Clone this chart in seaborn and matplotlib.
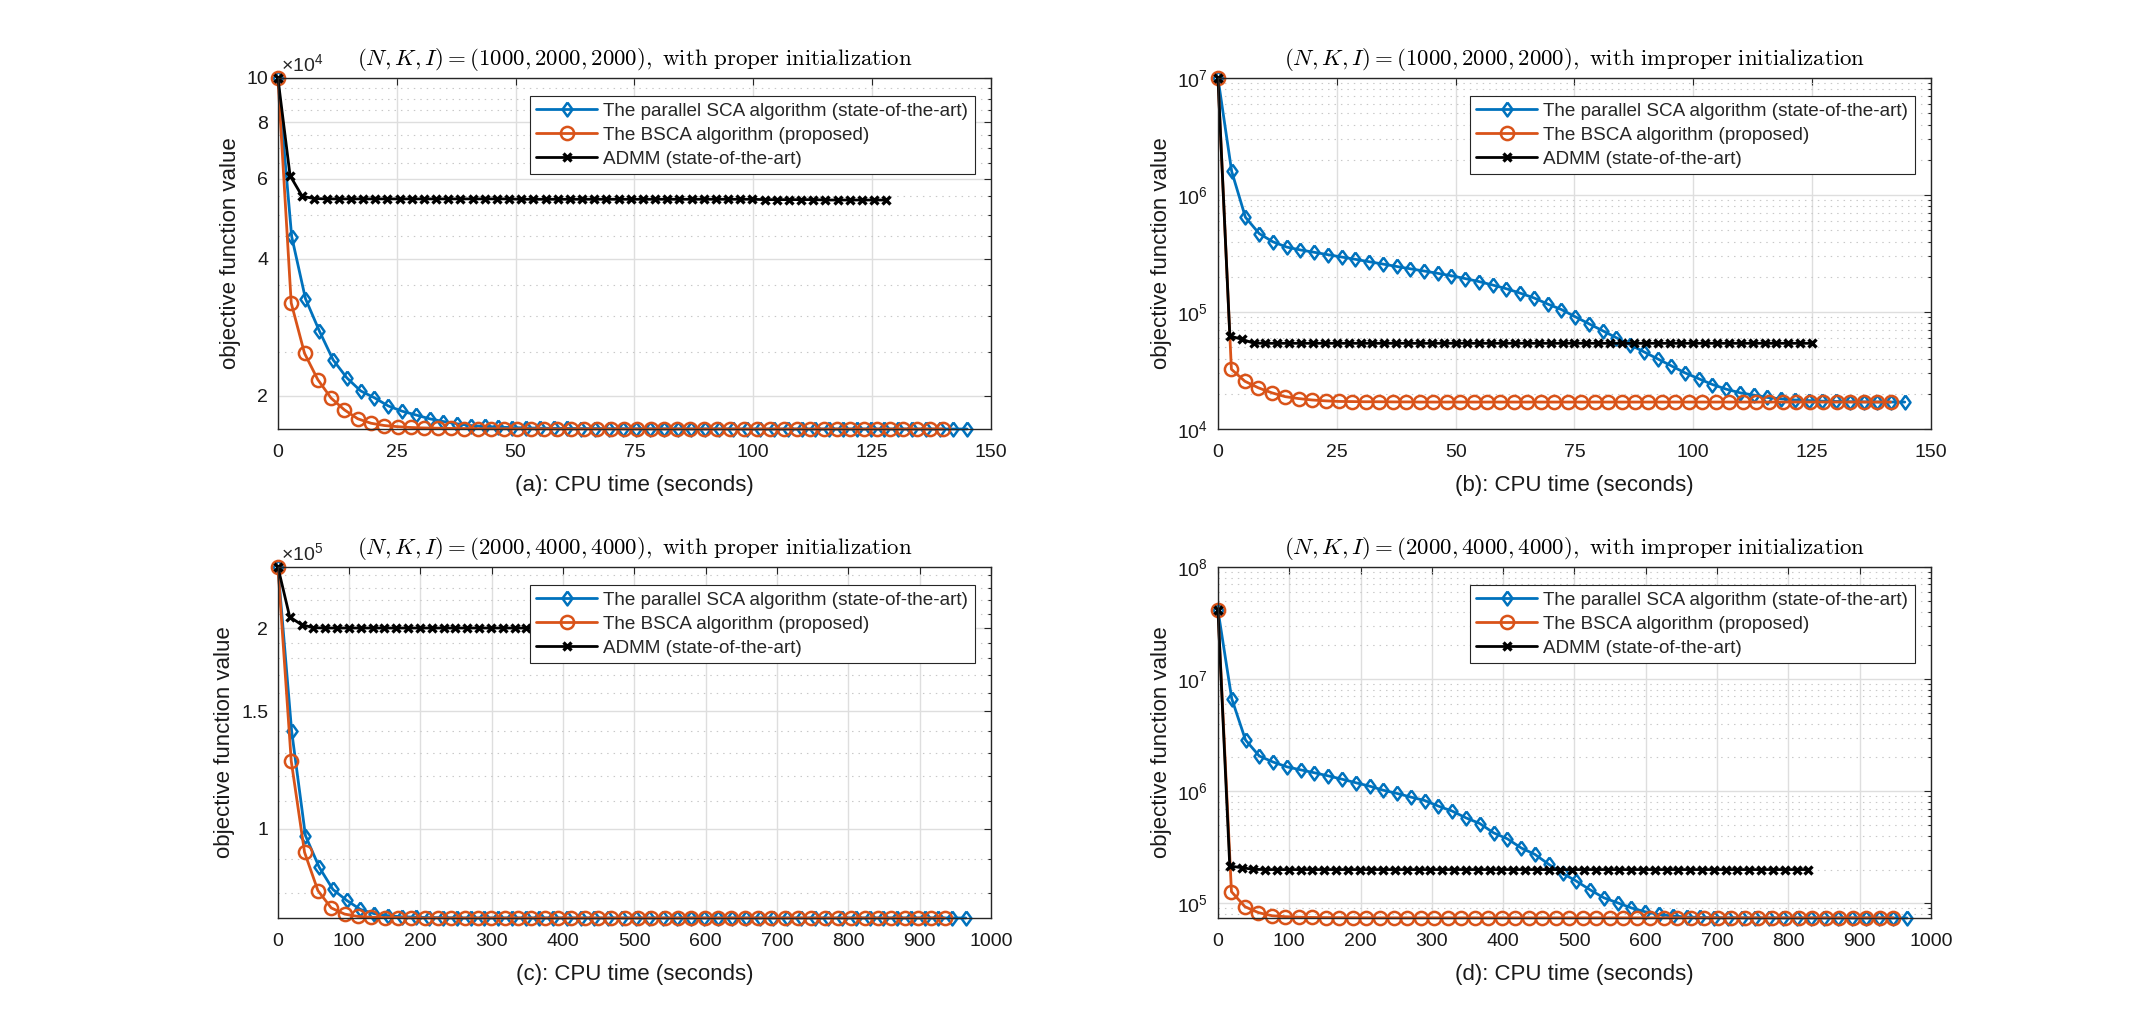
import numpy as np
import matplotlib
matplotlib.use('Agg')
import matplotlib.pyplot as plt
import seaborn as sns
from matplotlib.ticker import FixedLocator, FixedFormatter, NullFormatter, LogLocator

# ---------------- data ----------------
iters = np.arange(51)
labels = ['The parallel SCA algorithm (state-of-the-art)',
          'The BSCA algorithm (proposed)',
          'ADMM (state-of-the-art)']

# CPU seconds per iteration: SCA, BSCA, ADMM
sec_per_iter_a = [2.9, 2.8, 2.56]
sec_per_iter_b = [2.89, 2.83, 2.5]
sec_per_iter_c = [19.3, 18.7, 16.6]
sec_per_iter_d = [19.33, 18.94, 16.56]

# (a) x1e4
sca_a = [10.0, 4.48, 3.27, 2.78, 2.40, 2.19, 2.05, 1.98, 1.90, 1.85,
         1.815, 1.78, 1.755, 1.735, 1.72, 1.712, 1.706, 1.702, 1.699, 1.697,
         1.696, 1.695, 1.694, 1.694, 1.693, 1.693, 1.692, 1.692, 1.692, 1.691,
         1.691, 1.691, 1.691, 1.691, 1.690, 1.690, 1.690, 1.690, 1.690, 1.690,
         1.690, 1.690, 1.690, 1.690, 1.690, 1.690, 1.690, 1.690, 1.690, 1.690, 1.690]
bsca_a = [10.0, 3.20, 2.48, 2.17, 1.976, 1.862, 1.78, 1.74, 1.72, 1.71,
          1.703, 1.699, 1.697, 1.695, 1.694, 1.693, 1.692, 1.692, 1.691, 1.691,
          1.691, 1.690, 1.690, 1.690, 1.690, 1.690, 1.690, 1.690, 1.690, 1.690,
          1.690, 1.690, 1.690, 1.690, 1.690, 1.690, 1.690, 1.690, 1.690, 1.690,
          1.690, 1.690, 1.690, 1.690, 1.690, 1.690, 1.690, 1.690, 1.690, 1.690, 1.690]
admm_a = [10.0, 6.10, 5.49, 5.43, 5.42, 5.42, 5.42, 5.42, 5.42, 5.42,
          5.42, 5.42, 5.42, 5.42, 5.42, 5.42, 5.42, 5.42, 5.42, 5.42,
          5.41, 5.41, 5.41, 5.41, 5.41, 5.41, 5.41, 5.41, 5.41, 5.41,
          5.41, 5.41, 5.41, 5.41, 5.41, 5.41, 5.41, 5.41, 5.41, 5.41,
          5.40, 5.40, 5.40, 5.40, 5.40, 5.39, 5.39, 5.39, 5.39, 5.39, 5.39]

# (b)
sca_b = [1.0e7, 1.59e6, 6.45e5, 4.68e5, 3.98e5, 3.59e5, 3.39e5, 3.24e5, 3.09e5, 2.95e5,
         2.82e5, 2.69e5, 2.57e5, 2.45e5, 2.34e5, 2.24e5, 2.14e5, 2.04e5, 1.93e5, 1.82e5,
         1.70e5, 1.58e5, 1.45e5, 1.32e5, 1.17e5, 1.05e5, 9.12e4, 7.94e4, 6.92e4, 6.03e4,
         5.25e4, 4.57e4, 3.98e4, 3.47e4, 3.02e4, 2.69e4, 2.40e4, 2.19e4, 2.04e4, 1.95e4,
         1.86e4, 1.81e4, 1.77e4, 1.75e4, 1.73e4, 1.72e4, 1.71e4, 1.706e4, 1.702e4, 1.70e4, 1.70e4]
bsca_b = [1.0e7, 3.24e4, 2.56e4, 2.25e4, 2.04e4, 1.89e4, 1.82e4, 1.77e4, 1.74e4, 1.72e4,
          1.715e4, 1.71e4, 1.71e4, 1.705e4, 1.705e4, 1.70e4, 1.70e4, 1.70e4, 1.70e4, 1.70e4,
          1.70e4, 1.70e4, 1.70e4, 1.70e4, 1.70e4, 1.70e4, 1.70e4, 1.70e4, 1.70e4, 1.70e4,
          1.70e4, 1.70e4, 1.70e4, 1.70e4, 1.70e4, 1.70e4, 1.70e4, 1.70e4, 1.70e4, 1.70e4,
          1.70e4, 1.70e4, 1.70e4, 1.70e4, 1.70e4, 1.70e4, 1.70e4, 1.70e4, 1.70e4, 1.70e4, 1.70e4]
admm_b = [1.0e7, 6.24e4, 5.85e4, 5.42e4, 5.40e4, 5.40e4, 5.40e4, 5.40e4, 5.40e4, 5.40e4,
          5.40e4, 5.40e4, 5.40e4, 5.40e4, 5.40e4, 5.40e4, 5.40e4, 5.40e4, 5.40e4, 5.40e4,
          5.40e4, 5.40e4, 5.40e4, 5.40e4, 5.40e4, 5.40e4, 5.40e4, 5.40e4, 5.40e4, 5.40e4,
          5.40e4, 5.40e4, 5.40e4, 5.40e4, 5.40e4, 5.40e4, 5.40e4, 5.40e4, 5.40e4, 5.40e4,
          5.40e4, 5.40e4, 5.40e4, 5.40e4, 5.40e4, 5.40e4, 5.40e4, 5.40e4, 5.40e4, 5.40e4, 5.40e4]

# (c) x1e5
sca_c = [2.47, 1.40, 0.976, 0.875, 0.810, 0.780, 0.756, 0.745, 0.740, 0.737,
         0.736, 0.735, 0.735, 0.734, 0.734, 0.734, 0.734, 0.734, 0.734, 0.734,
         0.734, 0.734, 0.734, 0.734, 0.734, 0.734, 0.734, 0.734, 0.734, 0.734,
         0.734, 0.734, 0.734, 0.734, 0.734, 0.734, 0.734, 0.734, 0.734, 0.734,
         0.734, 0.734, 0.734, 0.734, 0.734, 0.734, 0.734, 0.734, 0.734, 0.734, 0.734]
bsca_c = [2.47, 1.263, 0.921, 0.807, 0.760, 0.744, 0.738, 0.736, 0.735, 0.735,
          0.734, 0.734, 0.734, 0.734, 0.734, 0.734, 0.734, 0.734, 0.734, 0.734,
          0.734, 0.734, 0.734, 0.734, 0.734, 0.734, 0.734, 0.734, 0.734, 0.734,
          0.734, 0.734, 0.734, 0.734, 0.734, 0.734, 0.734, 0.734, 0.734, 0.734,
          0.734, 0.734, 0.734, 0.734, 0.734, 0.734, 0.734, 0.734, 0.734, 0.734, 0.734]
admm_c = [2.47, 2.078, 2.023, 2.002, 2.0, 2.0, 2.0, 2.0, 2.0, 2.0,
          2.0, 2.0, 2.0, 2.0, 2.0, 2.0, 2.0, 2.0, 2.0, 2.0,
          2.0, 2.0, 2.0, 2.0, 2.0, 2.0, 2.0, 2.0, 2.0, 2.0,
          2.0, 2.0, 2.0, 2.0, 2.0, 2.0, 2.0, 2.0, 2.0, 2.0,
          2.0, 2.0, 2.0, 2.0, 2.0, 2.0, 2.0, 2.0, 2.0, 2.0, 2.0]

# (d)
sca_d = [4.13e7, 6.7e6, 2.86e6, 2.06e6, 1.82e6, 1.65e6, 1.55e6, 1.46e6, 1.37e6, 1.28e6,
         1.19e6, 1.11e6, 1.02e6, 9.55e5, 8.86e5, 8.26e5, 7.36e5, 6.64e5, 5.78e5, 5.15e5,
         4.25e5, 3.76e5, 3.12e5, 2.73e5, 2.23e5, 1.85e5, 1.58e5, 1.32e5, 1.12e5, 1.01e5,
         9.1e4, 8.4e4, 7.95e4, 7.7e4, 7.55e4, 7.48e4, 7.45e4, 7.43e4, 7.42e4, 7.41e4,
         7.41e4, 7.40e4, 7.40e4, 7.40e4, 7.40e4, 7.40e4, 7.40e4, 7.40e4, 7.40e4, 7.40e4, 7.40e4]
bsca_d = [4.13e7, 1.27e5, 9.33e4, 8.26e4, 7.75e4, 7.6e4, 7.52e4, 7.48e4, 7.46e4, 7.45e4,
          7.44e4, 7.43e4, 7.42e4, 7.42e4, 7.42e4, 7.42e4, 7.42e4, 7.42e4, 7.42e4, 7.42e4,
          7.42e4, 7.42e4, 7.42e4, 7.42e4, 7.42e4, 7.42e4, 7.42e4, 7.42e4, 7.42e4, 7.42e4,
          7.42e4, 7.42e4, 7.42e4, 7.42e4, 7.42e4, 7.42e4, 7.42e4, 7.42e4, 7.42e4, 7.42e4,
          7.42e4, 7.42e4, 7.42e4, 7.42e4, 7.42e4, 7.42e4, 7.42e4, 7.42e4, 7.42e4, 7.42e4, 7.42e4]
admm_d = [4.13e7, 2.15e5, 2.08e5, 2.01e5, 2.0e5, 2.0e5, 2.0e5, 2.0e5, 2.0e5, 2.0e5,
          2.0e5, 2.0e5, 2.0e5, 2.0e5, 2.0e5, 2.0e5, 2.0e5, 2.0e5, 2.0e5, 2.0e5,
          2.0e5, 2.0e5, 2.0e5, 2.0e5, 2.0e5, 2.0e5, 2.0e5, 2.0e5, 2.0e5, 2.0e5,
          2.0e5, 2.0e5, 2.0e5, 2.0e5, 2.0e5, 2.0e5, 2.0e5, 2.0e5, 2.0e5, 2.0e5,
          2.0e5, 2.0e5, 2.0e5, 2.0e5, 2.0e5, 2.0e5, 2.0e5, 2.0e5, 2.0e5, 2.0e5, 2.0e5]

# ---------------- style ----------------
sns.set_theme(style='white')
plt.rcParams['font.family'] = ['Liberation Sans', 'DejaVu Sans']
plt.rcParams['mathtext.fontset'] = 'custom'
plt.rcParams['mathtext.rm'] = 'Liberation Sans'
plt.rcParams['mathtext.it'] = 'Liberation Sans:italic'
plt.rcParams['mathtext.bf'] = 'Liberation Sans:bold'

colors = ['#0072BD', '#D95319', 'black']
diamond = [(0, 1), (0.72, 0), (0, -1), (-0.72, 0), (0, 1)]
mk = [dict(marker=diamond, markersize=10, markeredgewidth=1.8),
      dict(marker='o', markersize=9.5, markeredgewidth=1.8),
      dict(marker='x', markersize=5.5, markeredgewidth=2.4)]
axcol = '#262626'

fig = plt.figure(figsize=(21.36, 10.34), dpi=100)
W, H = 0.3338, 0.3395
pos = {'a': [0.1301, 0.5851, W, H], 'b': [0.5702, 0.5851, W, H],
       'c': [0.1301, 0.1122, W, H], 'd': [0.5702, 0.1122, W, H]}


def panel(key, series, steps, xmax, xstep, ylim, title, scale=1.0, ticks=None):
    ax = fig.add_axes(pos[key])
    for i, (vals, st) in enumerate(zip(series, steps)):
        sns.lineplot(x=iters * st, y=np.array(vals) * scale, ax=ax, color=colors[i],
                     lw=2, label=labels[i], markerfacecolor='none',
                     markeredgecolor=colors[i], clip_on=False, estimator=None,
                     sort=False, zorder=3 + i, **mk[i])
    ax.set_yscale('log')
    ax.set_xlim(0, xmax)
    ax.set_xticks(np.arange(0, xmax + 1, xstep))
    ax.set_ylim(ylim)
    if ticks is not None:
        major, lab, minor, expo = ticks
        ax.yaxis.set_major_locator(FixedLocator(major))
        ax.yaxis.set_major_formatter(FixedFormatter(lab))
        ax.yaxis.set_minor_locator(FixedLocator(minor))
        ax.text(0.004, 1.008, '\u00d710$^{%d}$' % expo, transform=ax.transAxes,
                ha='left', va='bottom', fontsize=14, color=axcol)
    else:
        ax.yaxis.set_major_locator(LogLocator(base=10))
        ax.yaxis.set_minor_locator(LogLocator(base=10, subs=np.arange(2, 10)))
    ax.yaxis.set_minor_formatter(NullFormatter())
    ax.grid(which='major', color='#dedede', lw=1)
    ax.grid(which='minor', axis='y', color='#c8c8c8', lw=0.8, ls=(0, (1.3, 4.5)))
    ax.set_axisbelow(True)
    for s in ax.spines.values():
        s.set_color(axcol)
        s.set_linewidth(1)
        s.set_zorder(10)
    ax.tick_params(which='both', direction='in', top=True, right=True,
                   colors=axcol, labelcolor='#1a1a1a', labelsize=14, pad=7, width=0.8)
    ax.tick_params(axis='x', which='both', pad=11)
    ax.tick_params(which='major', length=5)
    ax.tick_params(which='minor', length=2.5)
    ax.set_title(title, fontsize=16.5, math_fontfamily='cm', pad=9, color='black')
    ax.set_xlabel('(%s): CPU time (seconds)' % key, fontsize=16, color='#1a1a1a',
                  labelpad=10)
    ax.set_ylabel('objective function value', fontsize=16, color='#1a1a1a')
    leg = ax.legend(loc='upper right', bbox_to_anchor=(1 - 16 / 713, 1 - 18 / 351),
                    borderaxespad=0, fontsize=13.6, fancybox=False, framealpha=1,
                    edgecolor=axcol, handlelength=3.2, handletextpad=0.35,
                    borderpad=0.35, labelspacing=0.36)
    leg.get_frame().set_linewidth(0.8)
    leg.set_zorder(20)
    return ax


t_small = r'$(N,K,I)=(1000,2000,2000)\mathrm{,\ with\ %s\ initialization}$'
t_big = r'$(N,K,I)=(2000,4000,4000)\mathrm{,\ with\ %s\ initialization}$'

panel('a', [sca_a, bsca_a, admm_a], sec_per_iter_a, 150, 25, (1.69e4, 1.0e5),
      t_small % 'proper', scale=1e4,
      ticks=([2e4, 4e4, 6e4, 8e4, 1e5], ['2', '4', '6', '8', '10'],
             [2.5e4, 3e4, 3.5e4, 4.5e4, 5e4, 5.5e4, 6.5e4, 7e4, 7.5e4, 8.5e4, 9e4, 9.5e4], 4))
panel('b', [sca_b, bsca_b, admm_b], sec_per_iter_b, 150, 25, (1e4, 1e7),
      t_small % 'improper')
panel('c', [sca_c, bsca_c, admm_c], sec_per_iter_c, 1000, 100, (0.734e5, 2.47e5),
      t_big % 'proper', scale=1e5,
      ticks=([1e5, 1.5e5, 2e5], ['1', '1.5', '2'],
             [0.8e5, 0.9e5, 1.1e5, 1.2e5, 1.3e5, 1.4e5, 1.6e5, 1.7e5, 1.8e5, 1.9e5,
              2.1e5, 2.2e5, 2.3e5, 2.4e5], 5))
panel('d', [sca_d, bsca_d, admm_d], sec_per_iter_d, 1000, 100, (7.4e4, 1e8),
      t_big % 'improper')

fig.savefig('out.png', dpi=100, facecolor='white')
